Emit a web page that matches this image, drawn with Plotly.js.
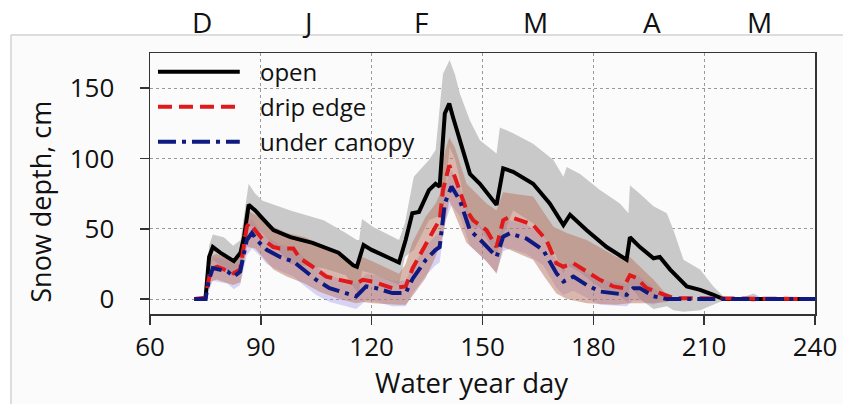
<!DOCTYPE html>
<html>
<head>
<meta charset="utf-8">
<script src="https://cdn.plot.ly/plotly-3.0.1.min.js"></script>
<style>html,body{margin:0;padding:0;background:#fff;}#chart{width:843px;height:404px;}</style>
</head>
<body>
<div id="chart"></div>
<script>
// ---- Data ----
const monthDays   = [74, 102.5, 133.3, 164.4, 195.8, 225];
const monthLabels = ['D', 'J', 'F', 'M', 'A', 'M'];

const openDays = [72, 75, 76, 77, 79, 82.7, 84.5, 85.5, 86.7, 88.5, 90, 93.4, 98, 104, 111, 115, 116, 117.8, 120, 124, 127.4, 129.2, 131, 132.8, 135.5, 137.3, 138.4, 139.8, 141, 142, 146.6, 149.3, 153.8, 155.6, 158.3, 163.7, 168.2, 171.9, 173.7, 178.2, 183.6, 189, 189.9, 192.6, 196.3, 198, 200.8, 205.3, 208.9, 212.5, 215.2, 240];
const openMean = [0, 0, 30, 37, 33, 27, 33, 45, 67, 63, 58.6, 49, 44, 40, 33, 24, 23, 38.5, 35, 30, 26, 42, 61, 62, 77.5, 82, 80, 132, 139, 129.5, 89, 82, 67, 93, 90.5, 82, 68, 52.7, 60, 49, 37, 28, 44, 37, 29, 30, 21, 9, 6.6, 3, 0, 0];

const openBandDays = [72, 75, 76, 77, 80, 82.5, 84.5, 85.5, 86.7, 88.5, 90.5, 98, 107, 113, 116, 116.6, 117.4, 120.3, 127.4, 129, 131.4, 135.5, 137.3, 139.3, 141.1, 142.5, 143.9, 146.6, 149.3, 153.8, 154.7, 158.3, 163.7, 169.2, 171.9, 172.8, 176.4, 181.8, 187.2, 189.5, 189.9, 192.6, 196.3, 199.9, 201.7, 204.4, 208.9, 212.5, 215.2, 220, 223.4, 226, 240];
const openUpper = [0, 1, 38, 46, 44, 38, 42, 60, 82, 75, 70, 63, 56, 47, 42, 42, 57, 51.5, 42, 54, 87, 99, 106, 160, 170, 160, 146, 127, 113, 103.5, 122, 118, 110.5, 99, 87, 94, 89, 77.5, 68, 61, 81, 75, 66, 61, 49, 28, 21, 9, 2, 1, 4, 0, 0];
const openLower = [0, 0, 22, 28, 22, 16, 24, 30, 52, 51, 47, 25, 22, 17, 5, 5, 20, 18, 10, 30, 35, 56, 58, 60, 108, 100, 85, 51, 51, 31, 40, 63, 54, 35, 18, 24, 19, 8, 2, -3, 10, 0, -7, -5, -8, -9, -8, -4, -1, 0, -2, 0, 0];

const dripDays = [72, 75, 76.4, 78.2, 82.7, 84.4, 86.2, 86.9, 88.5, 90.3, 93.4, 95.2, 98.8, 100.6, 104, 107.7, 111.3, 115.8, 117.6, 120.3, 125.6, 129.2, 131.1, 134.7, 137.3, 138.4, 139.3, 141, 142.5, 145.7, 147.5, 151.1, 153.8, 155.6, 157.4, 163.7, 167.3, 170, 171.9, 174.6, 178.2, 181.8, 185.4, 188.1, 189.9, 191.7, 194.4, 198, 201.7, 240];
const dripMean = [0, 1, 21, 23, 18.4, 21, 51.5, 54, 49, 43, 37, 36, 36, 29, 23, 16, 13.7, 11, 13.7, 12.5, 7.8, 9, 22, 40, 51.5, 56, 77.5, 95, 87, 63, 56, 49, 37, 56, 58.6, 52.7, 42, 25.5, 23, 25.5, 19.6, 13.7, 9, 7.8, 17, 15, 7.8, 4, 0.7, 0];

const dripUpperDays = [72, 75, 76, 78, 82.5, 84.5, 86.2, 88.5, 93.4, 97, 102, 111.3, 115.8, 117.5, 120.3, 127.4, 129.2, 131, 134.6, 137.3, 138.5, 139.3, 141, 142.5, 145.7, 151.1, 153.8, 155.6, 163.7, 169.2, 172.8, 178.2, 186.3, 189.9, 196.3, 199.9, 201.7, 240];
const dripUpper = [0, 2, 30, 32, 27, 30, 63, 60, 51.5, 47, 44, 33, 23, 30, 26.7, 18, 25, 40, 58.6, 68, 75, 100, 115, 108, 82, 68, 63, 76, 73, 51.5, 47, 42, 30, 30, 13.7, 3, 0, 0];
const dripLowerDays = [72, 75, 76, 78, 82.5, 84.5, 86.2, 88.5, 93.4, 97, 102, 106, 111.3, 115.8, 117.5, 120.3, 127.4, 129.2, 131, 134.6, 137.3, 139.3, 141, 142.5, 145.7, 151.1, 153.8, 155.6, 163.7, 167, 170, 172.8, 178.2, 186.3, 189.9, 196.3, 199.9, 201.7, 240];
const dripLower = [0, 0, 12, 14, 10, 12, 37, 36, 21, 16, 11, 5, 0, -3, -2, -3, -4, -4, 2, 15, 30, 45, 70, 60, 40, 27, 18, 37, 28, 15, 4, 0, -3, -4, -3, -3, -2, 0, 0];

const canopyDays = [72, 75, 76, 77, 81, 82.7, 84.4, 86.2, 87.6, 88.9, 91.6, 95.2, 98.8, 101.5, 105, 108.6, 113.1, 115.8, 118.5, 121.2, 125.6, 129.2, 131.1, 134.7, 137.3, 138.4, 139.8, 141.6, 143.9, 146.6, 150.2, 153.8, 155.6, 157.4, 161.9, 166.4, 170, 171.9, 174.6, 178.2, 181.8, 189, 190.8, 192.6, 196.3, 199.9, 240];
const canopyMean = [0, 0, 14, 22, 19.6, 16, 19.6, 42, 47, 42, 35, 30, 26.7, 20.8, 13.7, 7.8, 4.3, 1.9, 9, 7.8, 4.3, 4.3, 14.5, 28, 35, 37, 68, 80, 70, 49, 40, 30, 44.4, 46.8, 43, 35, 18.4, 12.5, 16, 10, 5.4, 3, 7.8, 7.8, 2, 0, 0];
const canopyUpper = [0, 0, 21, 30, 28, 24, 28, 52, 57, 52, 44, 39, 36, 30, 23, 17, 13, 11, 18, 17, 13, 13, 24, 38, 45, 47, 80, 92, 80, 59, 50, 40, 54, 56, 53, 45, 28, 22, 26, 19, 14, 11, 16, 16, 8, 0, 0];
const canopyLower = [0, 0, 6, 13, 11, 7, 10, 31, 36, 33, 25, 20, 16, 10, 3, -2, -5, -7, -1, -2, -5, -5, 4, 17, 24, 26, 54, 67, 59, 38, 29, 19, 34, 36, 32, 24, 8, 3, 6, 1, -4, -5, -1, -1, -4, 0, 0];

const seriesNames = ['open', 'drip edge', 'under canopy'];
const seriesColors = ['#000000', '#e0191b', '#0f1a80'];
const seriesDash = ['solid', '14px,7px', '18px,6px,4px,6px'];

// ---- Traces ----
const FONT = 'Open Sans, Noto Sans, sans-serif';
const band = (x, y, fill, color) => ({
  x: x, y: y, type: 'scatter', mode: 'lines', line: {width: 0, color: 'rgba(0,0,0,0)'},
  fill: fill, fillcolor: color, hoverinfo: 'skip', showlegend: false
});
const traces = [
  band(openBandDays, openUpper, 'none', '#c9c9c9'),
  band(openBandDays, openLower, 'tonexty', '#c9c9c9'),
  band(canopyDays, canopyUpper, 'none', 'rgba(150,140,230,0.35)'),
  band(canopyDays, canopyLower, 'tonexty', 'rgba(150,140,230,0.35)'),
  band(dripUpperDays, dripUpper, 'none', 'rgba(185,115,95,0.5)'),
  band(dripLowerDays, dripLower, 'tonexty', 'rgba(185,115,95,0.5)'),
  {x: openDays, y: openMean, type: 'scatter', mode: 'lines', name: seriesNames[0],
   line: {color: seriesColors[0], width: 4, dash: seriesDash[0]}, showlegend: false},
  {x: dripDays, y: dripMean, type: 'scatter', mode: 'lines', name: seriesNames[1],
   line: {color: seriesColors[1], width: 4, dash: seriesDash[1]}, showlegend: false},
  {x: canopyDays, y: canopyMean, type: 'scatter', mode: 'lines', name: seriesNames[2],
   line: {color: seriesColors[2], width: 4, dash: seriesDash[2]}, showlegend: false}
];

// ---- Manual legend (long line samples) ----
const legendY = [0.928, 0.794, 0.660];
const shapes = [
  {type: 'rect', xref: 'paper', yref: 'paper', x0: -0.209, x1: 1.1, y0: -0.5, y1: 1.069,
   line: {color: '#bdbdbd', width: 1}, fillcolor: '#fbfbfb', layer: 'below'}
];
const annotations = [];
seriesNames.forEach((n, i) => {
  shapes.push({type: 'line', xref: 'paper', yref: 'paper', x0: 0.012, x1: 0.135,
    y0: legendY[i], y1: legendY[i], line: {color: seriesColors[i], width: 4, dash: seriesDash[i]}});
  annotations.push({xref: 'paper', yref: 'paper', x: 0.163, y: legendY[i], xanchor: 'left', yanchor: 'middle',
    text: n, showarrow: false, font: {family: FONT, size: 24, color: '#111'}});
});
monthDays.forEach((d, i) => {
  annotations.push({xref: 'x', yref: 'paper', x: d, y: 1.12, xanchor: 'center', yanchor: 'middle',
    text: monthLabels[i], showarrow: false, font: {family: FONT, size: 28, color: '#111'}});
});
annotations.push({xref: 'paper', yref: 'paper', x: -0.164, y: 0.43, xanchor: 'center', yanchor: 'middle',
  textangle: -90, text: 'Snow depth, cm', showarrow: false, font: {family: FONT, size: 27, color: '#111'}});
annotations.push({xref: 'paper', yref: 'paper', x: 0.484, y: -0.262, xanchor: 'center', yanchor: 'middle',
  text: 'Water year day', showarrow: false, font: {family: FONT, size: 27.5, color: '#111'}});

const layout = {
  width: 843, height: 404,
  margin: {l: 150, r: 28, t: 53, b: 90},
  paper_bgcolor: '#ffffff', plot_bgcolor: '#ffffff',
  showlegend: false,
  font: {family: FONT, size: 26, color: '#111'},
  xaxis: {range: [60, 240], tickvals: [60, 90, 120, 150, 180, 210, 240], ticks: 'outside', ticklen: 9,
    tickwidth: 1.5, tickcolor: '#333', showline: true, mirror: true, linecolor: '#333', linewidth: 1.5,
    showgrid: true, gridcolor: '#999', griddash: 'dot', gridwidth: 1, zeroline: false,
    tickfont: {family: FONT, size: 26, color: '#111'}},
  yaxis: {range: [-10.6, 175], tickvals: [0, 50, 100, 150], ticks: 'outside', ticklen: 9,
    tickwidth: 1.5, tickcolor: '#333', showline: true, mirror: true, linecolor: '#333', linewidth: 1.5,
    showgrid: true, gridcolor: '#999', griddash: 'dot', gridwidth: 1, zeroline: false,
    ticklabelstandoff: 20, tickfont: {family: FONT, size: 26, color: '#111'}},
  shapes: shapes,
  annotations: annotations
};

Plotly.newPlot('chart', traces, layout, {staticPlot: true, displayModeBar: false});
</script>
</body>
</html>
